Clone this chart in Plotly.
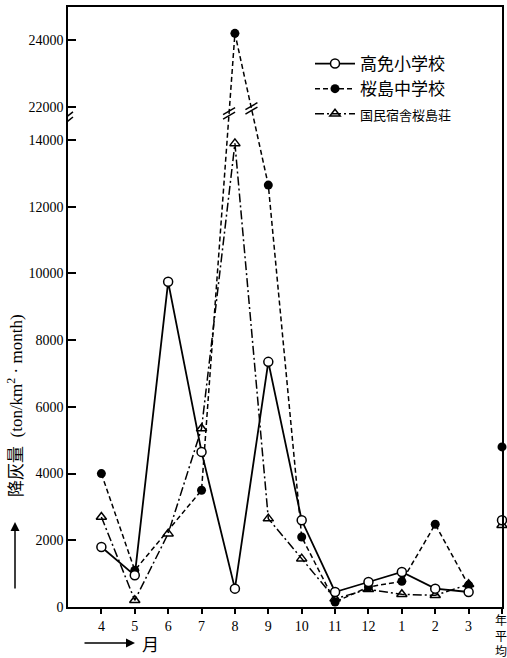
import plotly.graph_objects as go

# ---- data (tons / km^2 / month) ----
months = ["4", "5", "6", "7", "8", "9", "10", "11", "12", "1", "2", "3"]
avg_label = "年<br>平<br>均"
kotome = [1800, 950, 9750, 4650, 550, 7350, 2600, 450, 750, 1050, 550, 450]
kotome_avg = 2600
chugaku = [4000, 1100, None, 3500, 24200, 12650, 2100, 150, 600, 770, 2480, 650]
chugaku_avg = 4800
kokumin = [2700, 200, 2200, 5350, 13900, 2650, 1450, 250, 530, 380, 350, 680]
kokumin_avg = 2450
names = ["高免小学校", "桜島中学校", "国民宿舎桜島荘"]
ytick_values = [0, 2000, 4000, 6000, 8000, 10000, 12000, 14000, 22000, 24000]

# broken axis: values above the break are shifted down by the skipped span
BREAK_LO, BREAK_HI, GAP_SHOW = 14000, 22000, 1000
SHIFT = BREAK_HI - BREAK_LO - GAP_SHOW


def disp(v):
    if v is None:
        return None
    return v if v <= BREAK_LO + GAP_SHOW / 2 else v - SHIFT


xi = list(range(len(months)))
x_avg = len(months)

W, H = 507, 658
ML, MR, MT, MB = 68, 5, 7, 51
XR = [-1, len(months)]
YR = [0, 17990]
PX_X = (W - ML - MR) / (XR[1] - XR[0])
PX_Y = (H - MT - MB) / (YR[1] - YR[0])

serif = "Liberation Serif, Noto Sans CJK JP"
cjk = "Noto Sans CJK JP"

fig = go.Figure()

fig.add_trace(go.Scatter(
    x=xi, y=[disp(v) for v in chugaku], name=names[1], legendrank=2,
    mode="lines+markers", connectgaps=True, cliponaxis=False,
    line=dict(color="black", width=1.5, dash="5px,3px"),
    marker=dict(symbol="circle", size=9, color="black"),
))
fig.add_trace(go.Scatter(
    x=xi, y=[disp(v) for v in kokumin], name='<span style="font-size:13px">' + names[2] + "</span>",
    legendrank=3, mode="lines+markers", cliponaxis=False,
    line=dict(color="black", width=1.5, dash="9px,3px,2px,3px"),
    marker=dict(symbol="triangle-up-open", size=9, color="black", line=dict(width=1.5)),
))
fig.add_trace(go.Scatter(
    x=xi, y=[disp(v) for v in kotome], name=names[0], legendrank=1,
    mode="lines+markers", cliponaxis=False,
    line=dict(color="black", width=1.8),
    marker=dict(symbol="circle", size=9, color="white", line=dict(color="black", width=1.5)),
))
# annual averages (not connected)
fig.add_trace(go.Scatter(
    x=[x_avg], y=[disp(chugaku_avg)], mode="markers", showlegend=False, cliponaxis=False,
    marker=dict(symbol="circle", size=9, color="black"),
))
fig.add_trace(go.Scatter(
    x=[x_avg], y=[disp(kokumin_avg)], mode="markers", showlegend=False, cliponaxis=False,
    marker=dict(symbol="triangle-up", size=9, color="white", line=dict(color="black", width=1.5)),
))
fig.add_trace(go.Scatter(
    x=[x_avg], y=[disp(kotome_avg)], mode="markers", showlegend=False, cliponaxis=False,
    marker=dict(symbol="circle", size=9, color="white", line=dict(color="black", width=1.5)),
))

shapes = []


def break_mark(cx, cy, half_w=5, half_h=4, sep=2.6, gap=True):
    dx = half_w / PX_X
    dy = half_h / PX_Y
    s = sep / PX_Y
    if gap:
        shapes.append(dict(type="rect", xref="x", yref="y", layer="above",
                           x0=cx - 2 / PX_X, x1=cx + 2 / PX_X, y0=cy - s, y1=cy + s,
                           fillcolor="white", line=dict(width=0)))
    for o in (-s, s):
        shapes.append(dict(type="line", xref="x", yref="y", layer="above",
                           x0=cx - dx, y0=cy + o - dy, x1=cx + dx, y1=cy + o + dy,
                           line=dict(color="black", width=1.5)))


# y-axis break
break_mark(XR[0], 14650)


# breaks on the 桜島中学校 line through the gap
def cross_x(i0, i1, series, yd):
    y0, y1 = disp(series[i0]), disp(series[i1])
    return i0 + (yd - y0) / (y1 - y0) * (i1 - i0)


i8 = months.index("8")
yb1, yb2 = 14800, 14950
break_mark(cross_x(i8 - 1, i8, chugaku, yb1), yb1, half_w=6, half_h=3.5, sep=2.2, gap=False)
break_mark(cross_x(i8, i8 + 1, chugaku, yb2), yb2, half_w=6, half_h=3.5, sep=2.2, gap=False)


def px_to_paper(px, py):
    return (px - ML) / (W - ML - MR), (H - MB - py) / (H - MT - MB)


tx, ty = px_to_paper(15, 406)
a1x, a1y = px_to_paper(15, 522)
a2x, a2y = px_to_paper(135, 643)
mx, my = px_to_paper(150, 643)
_, avy = px_to_paper(0, 609)
annotations = [
    dict(xref="paper", yref="paper", x=tx, y=ty, xanchor="center", yanchor="middle",
         text="降灰量  (ton/km<sup>2</sup> · month)",
         textangle=-90, showarrow=False, font=dict(family=serif, size=17, color="black")),
    dict(xref="paper", yref="paper", x=a1x, y=a1y,
         text="", showarrow=True, ax=0, ay=68, arrowhead=2, arrowsize=1.2, arrowwidth=1.5,
         arrowcolor="black"),
    dict(xref="paper", yref="paper", x=a2x, y=a2y,
         text="", showarrow=True, ax=-52, ay=0, arrowhead=2, arrowsize=1.2, arrowwidth=1.5,
         arrowcolor="black"),
    dict(xref="paper", yref="paper", x=mx, y=my, xanchor="center", yanchor="middle",
         text="月", showarrow=False, font=dict(family=cjk, size=17, color="black")),
    # label of the annual-average column (tick at x_avg)
    dict(xref="x", yref="paper", x=x_avg, y=avy, xanchor="center", yanchor="top", xshift=-1,
         text=avg_label, showarrow=False, font=dict(family=cjk, size=12, color="black")),
]

lx, ly = px_to_paper(310, 46)
fig.update_layout(
    width=W, height=H,
    margin=dict(l=ML, r=MR, t=MT, b=MB, autoexpand=False),
    paper_bgcolor="white", plot_bgcolor="white",
    showlegend=True,
    legend=dict(x=lx, y=ly,
                xanchor="left", yanchor="top", bgcolor="rgba(0,0,0,0)",
                font=dict(family=cjk, size=17, color="black"),
                tracegroupgap=7, itemwidth=40),
    shapes=shapes,
    annotations=annotations,
)
fig.update_xaxes(
    range=XR, tickmode="array", tickvals=xi + [x_avg], ticktext=months + [""],
    showline=True, linecolor="black", linewidth=1.5, mirror=True, automargin=False,
    ticklabeloverflow="allow",
    ticks="outside", ticklen=5, tickwidth=1.5, tickcolor="black",
    showgrid=False, zeroline=False,
    tickfont=dict(family=serif, size=14, color="black"),
)
fig.update_yaxes(
    range=YR, tickmode="array", tickvals=[disp(v) for v in ytick_values],
    ticktext=[str(v) for v in ytick_values],
    showline=True, linecolor="black", linewidth=1.5, mirror=True, automargin=False,
    ticks="inside", ticklen=8, tickwidth=1.5, tickcolor="black",
    showgrid=False, zeroline=False,
    tickfont=dict(family=serif, size=14, color="black"),
)

fig.write_html("out.html", config={"displayModeBar": False},
               post_script="document.body.style.margin='0';")
